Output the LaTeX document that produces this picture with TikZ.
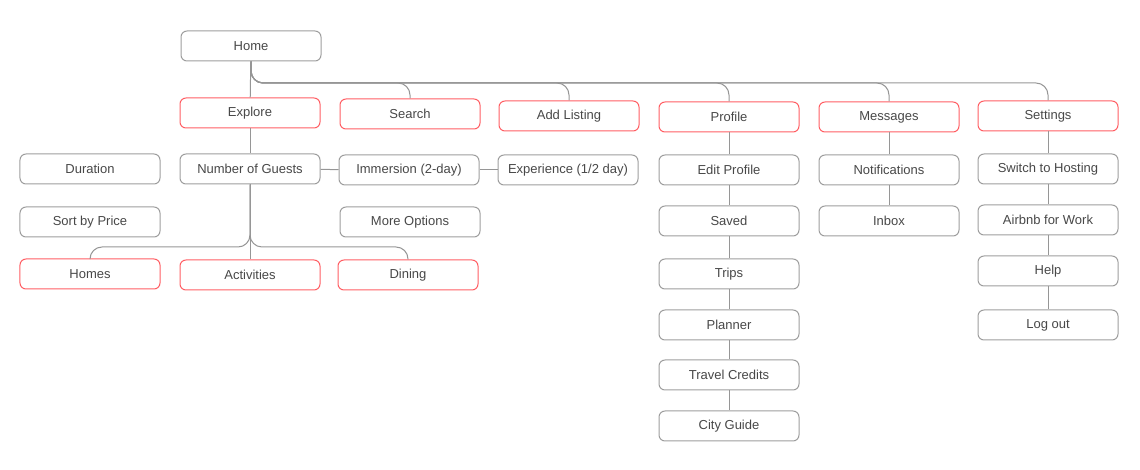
\documentclass[tikz,border=0pt]{standalone}
\usepackage{fontspec}
\setmainfont{Liberation Sans}
\definecolor{boxgrey}{RGB}{158,158,158}
\definecolor{airred}{RGB}{255,95,100}
\definecolor{linegrey}{RGB}{150,150,150}
\definecolor{textgrey}{RGB}{72,72,72}
\usetikzlibrary{positioning}

\begin{document}
\begin{tikzpicture}[x=1bp, y=-1bp,
    box/.style={draw=boxgrey, line width=1bp, rounded corners=6bp, fill=white,
      minimum width=140bp, minimum height=30bp, inner sep=0pt,
      text=textgrey, font=\fontsize{13bp}{15bp}\selectfont},
    hot/.style={box, draw=airred},
    link/.style={draw=linegrey, line width=1bp, rounded corners=12bp}]
    \useasboundingbox (0,0) rectangle (1140,470);

    % top level
    \node[box] (home) at (251,46) {Home};
    \node[hot] (explore) at (250,113) {Explore};
    \node[hot] (search) at (410,114) {Search};
    \node[hot] (addlisting) at (569,116) {Add Listing};
    \node[hot] (profile) at (729,117) {Profile};
    \node[hot] (messages) at (889,117) {Messages};
    \node[hot] (settings) at (1048,116) {Settings};
    \coordinate (bus) at (0,83);

    % explore side
    \node[box] (duration) at (90,169) {Duration};
    \node[box] (guests) at (250,169) {Number of Guests};
    \node[box] (immersion) at (409,170) {Immersion (2-day)};
    \node[box] (experience) at (568,170) {Experience (1/2 day)};
    \node[box] (sortprice) at (90,222) {Sort by Price};
    \node[box] (moreoptions) at (410,222) {More Options};
    \node[hot] (homes) at (90,274) {Homes};
    \node[hot] (activities) at (250,275) {Activities};
    \node[hot] (dining) at (408,275) {Dining};
    \coordinate (fork) at (0,247);

    % profile column
    \node[box] (editprofile) at (729,170) {Edit Profile};
    \node[box] (saved) at (729,221) {Saved};
    \node[box] (trips) at (729,274) {Trips};
    \node[box] (planner) at (729,325) {Planner};
    \node[box] (credits) at (729,375) {Travel Credits};
    \node[box] (cityguide) at (729,426) {City Guide};

    % messages column
    \node[box] (notifications) at (889,170) {Notifications};
    \node[box] (inbox) at (889,221) {Inbox};

    % settings column
    \node[box] (hosting) at (1048,169) {Switch to Hosting};
    \node[box] (work) at (1048,220) {Airbnb for Work};
    \node[box] (help) at (1048,271) {Help};
    \node[box] (logout) at (1048,325) {Log out};

    % connectors
    \draw[link] (home) -- (explore);
    \foreach \t in {search,addlisting,profile,messages,settings}
      \draw[link] (home.south) |- (\t.north |- bus) -- (\t.north);
    \draw[link] (explore) -- (guests);
    \draw[link] (guests) -- (immersion);
    \draw[link] (immersion) -- (experience);
    \draw[link] (guests) -- (activities);
    \foreach \t in {homes,dining}
      \draw[link] (guests.south) |- (\t.north |- fork) -- (\t.north);
    \foreach \a/\b in {profile/editprofile, editprofile/saved, saved/trips,
      trips/planner, planner/credits, credits/cityguide,
      messages/notifications, notifications/inbox,
      settings/hosting, hosting/work, work/help, help/logout}
      \draw[link] (\a) -- (\b);
  \end{tikzpicture}
\end{document}
